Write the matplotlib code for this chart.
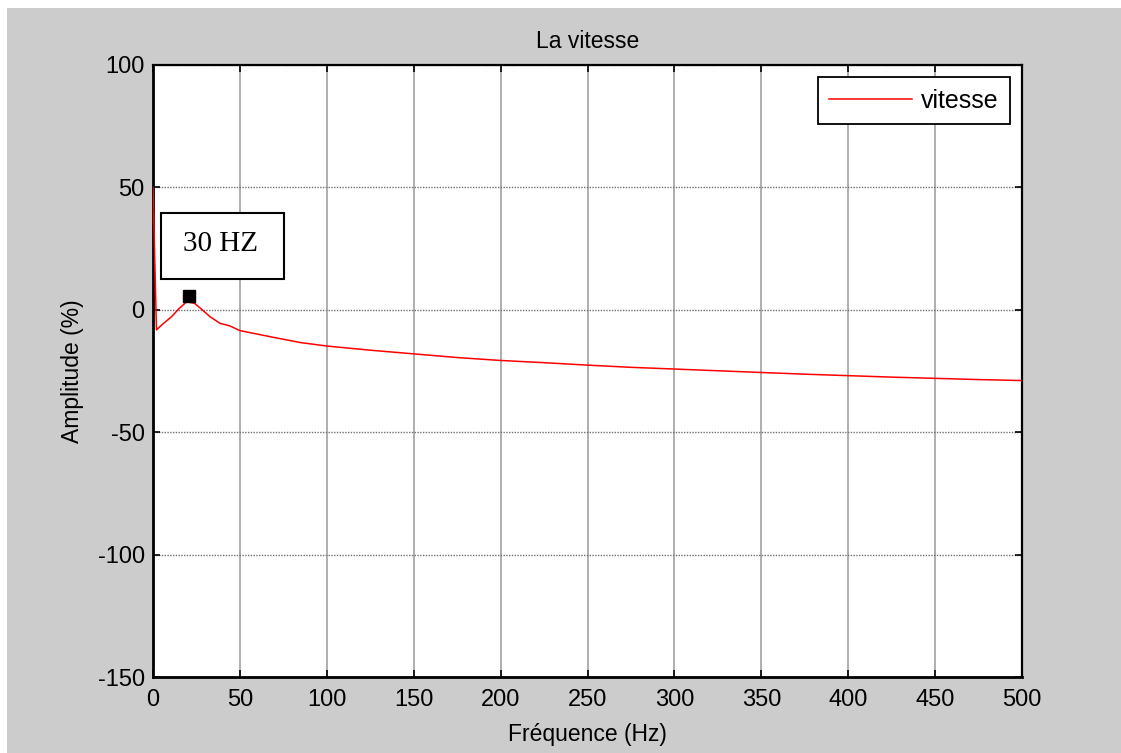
import matplotlib
matplotlib.use("Agg")
import matplotlib.pyplot as plt
from matplotlib.patches import Rectangle

# speed response read point by point (frequency in Hz, amplitude in %)
freq_hz = [0, 2, 6, 10.7, 15, 19.4, 24, 28, 32.8, 38.5, 44.3, 50, 57.7, 65.4,
           76.9, 85, 100, 125, 150, 175, 200, 225, 250, 275, 300, 325, 350,
           375, 400, 425, 450, 475, 500]
amplitude = [50, -8.2, -5.6, -2.8, 0.5, 3.3, 2.6, 0.2, -2.8, -5.5, -6.6, -8.5,
             -9.6, -10.7, -12.3, -13.4, -14.8, -16.5, -18.0, -19.5, -20.7,
             -21.6, -22.6, -23.5, -24.2, -24.9, -25.6, -26.3, -26.9, -27.5,
             -28.0, -28.5, -28.9]

# data tip
tip_freq, tip_amp = 20.8, 5.5
tip_label = "30 HZ"

x_ticks = list(range(0, 501, 50))
y_ticks = list(range(-150, 101, 50))

GRAY_BG = "#cccccc"
plt.rcParams["font.family"] = ["Liberation Sans", "DejaVu Sans"]
plt.rcParams["axes.unicode_minus"] = False

fig = plt.figure(figsize=(11.21, 7.53), dpi=100, facecolor="white")
# grey window panel with a thin white margin on top and left
fig.patches.append(Rectangle((7 / 1121, 0), 1 - 7 / 1121, 1 - 8 / 753,
                             transform=fig.transFigure, facecolor=GRAY_BG,
                             edgecolor="none", zorder=-5))

ax = fig.add_axes([153 / 1121, 1 - 677 / 753, 869 / 1121, 612 / 753])
ax.set_facecolor("white")

ax.plot(freq_hz, amplitude, color="#ff0000", lw=1.1, label="vitesse", zorder=3)
ax.plot([tip_freq], [tip_amp], marker="s", ms=8, color="black", ls="none", zorder=4)

# annotation frame for the data tip
ax.add_patch(Rectangle((4.4, 12.5), 71.0, 27.2, facecolor="white",
                       edgecolor="black", lw=1.5, zorder=5))
ax.text(39.0, 26.8, tip_label, ha="center", va="center", fontsize=21,
        family=["Liberation Serif", "DejaVu Serif"], zorder=6)

ax.set_xlim(0, 500)
ax.set_ylim(-150, 100)
ax.set_xticks(x_ticks)
ax.set_yticks(y_ticks)
ax.tick_params(direction="in", length=5, width=1.2, top=True, right=True,
               labelsize=17, colors="black")
ax.tick_params(axis="x", pad=9)
ax.tick_params(axis="y", pad=6)

ax.xaxis.grid(True, color="#a8a8a8", lw=1.3, ls="-")
ax.yaxis.grid(True, color="#707070", lw=1.0, ls=(0, (1, 1)))
ax.set_axisbelow(True)

for side in ("left", "bottom"):
    ax.spines[side].set_linewidth(2.0)
for side in ("top", "right"):
    ax.spines[side].set_linewidth(1.6)

ax.set_title("La vitesse", fontsize=16.5, pad=12)
ax.set_xlabel("Fréquence (Hz)", fontsize=16.5, labelpad=8)
ax.set_ylabel("Amplitude (%)", fontsize=16.5, labelpad=10)

leg = ax.legend(loc="upper right", fontsize=18, fancybox=False, framealpha=1,
                edgecolor="black", borderpad=0.45, borderaxespad=0.5,
                handlelength=3.3, handletextpad=0.35)
leg.get_frame().set_linewidth(1.3)

fig.savefig("out.png", dpi=100, facecolor=fig.get_facecolor())
